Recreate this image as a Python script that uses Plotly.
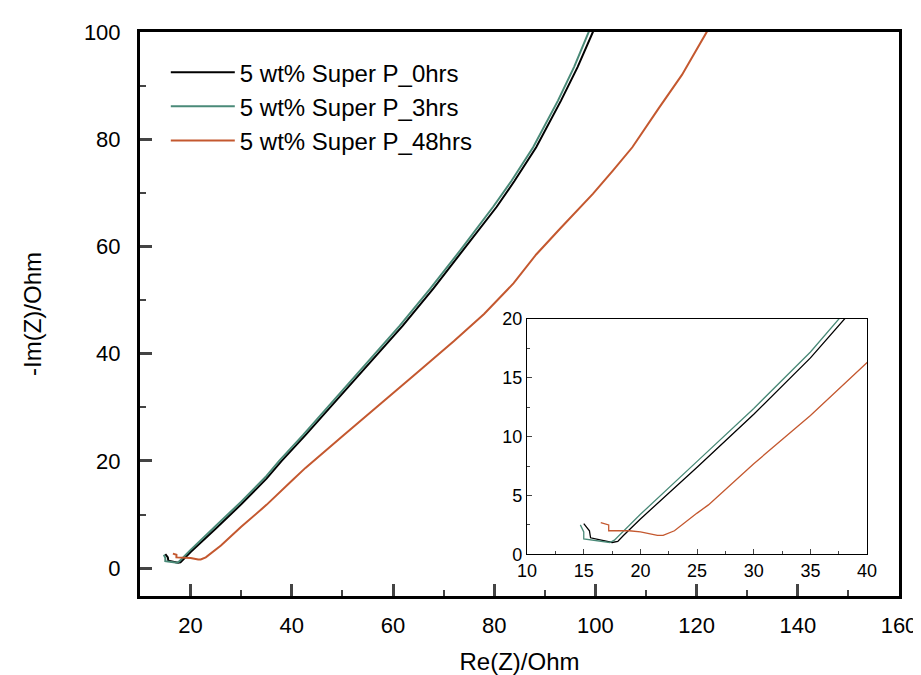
import plotly.graph_objects as go

names = ["5 wt% Super P_0hrs", "5 wt% Super P_3hrs", "5 wt% Super P_48hrs"]
colors = ["#000000", "#4a8a78", "#c4582f"]

x_0h = [15.0, 15.5, 15.6, 17.0, 17.5, 18.0, 18.5, 20.0, 25.0, 30.0, 35.0, 38.0, 42.7, 50.0, 56.0, 61.9, 68.0, 74.0, 80.5, 84.0, 88.3, 93.2, 96.5, 99.5, 101.0]
y_0h = [2.6, 2.0, 1.4, 1.1, 1.0, 1.1, 1.6, 3.0, 7.4, 11.9, 16.7, 20.0, 24.8, 32.5, 38.8, 45.2, 52.2, 59.4, 67.4, 72.2, 78.5, 87.2, 93.5, 100.0, 103.0]

x_3h = [14.7, 15.0, 15.0, 16.5, 17.3, 17.7, 20.0, 25.0, 30.0, 35.0, 37.5, 42.2, 49.4, 55.4, 61.3, 67.4, 73.4, 79.8, 83.4, 87.7, 92.6, 95.8, 98.7, 100.0]
y_3h = [2.5, 1.9, 1.3, 1.1, 1.0, 1.2, 3.4, 7.9, 12.4, 17.2, 20.0, 24.8, 32.5, 38.8, 45.2, 52.2, 59.4, 67.4, 72.2, 78.5, 87.2, 93.5, 100.0, 103.0]

x_48h = [16.5, 17.2, 17.2, 19.0, 20.0, 21.5, 22.0, 23.0, 25.0, 26.0, 30.0, 35.0, 40.0, 42.7, 50.0, 57.0, 64.8, 72.0, 78.0, 83.8, 88.3, 93.0, 99.5, 103.5, 107.3, 112.6, 117.1, 122.0, 123.0]
y_48h = [2.7, 2.5, 2.0, 2.0, 1.9, 1.6, 1.6, 2.0, 3.5, 4.2, 7.7, 11.8, 16.3, 18.7, 24.6, 30.3, 36.5, 42.3, 47.4, 53.1, 58.5, 63.3, 69.8, 74.2, 78.5, 85.9, 92.0, 100.0, 102.5]

series_x = [x_0h, x_3h, x_48h]
series_y = [y_0h, y_3h, y_48h]

main_xticks = [20, 40, 60, 80, 100, 120, 140, 160]
main_xminor = [30, 50, 70, 90, 110, 130, 150]
main_yticks = [0, 20, 40, 60, 80, 100]
main_yminor = [10, 30, 50, 70, 90]
inset_xticks = [10, 15, 20, 25, 30, 35, 40]
inset_xminor = [12.5, 17.5, 22.5, 27.5, 32.5, 37.5]
inset_yticks = [0, 5, 10, 15, 20]
inset_yminor = [2.5, 7.5, 12.5, 17.5]

fig = go.Figure()
for nm, c, xs, ys in zip(names, colors, series_x, series_y):
    fig.add_trace(go.Scatter(x=xs, y=ys, mode="lines", name=nm,
                             line=dict(color=c, width=2), xaxis="x", yaxis="y"))
for nm, c, xs, ys in zip(names, colors, series_x, series_y):
    fig.add_trace(go.Scatter(x=xs, y=ys, mode="lines", name=nm, showlegend=False,
                             line=dict(color=c, width=1.3), xaxis="x2", yaxis="y2"))

font_family = "Liberation Sans, Arial, sans-serif"
fig.update_layout(
    width=921, height=675,
    paper_bgcolor="white", plot_bgcolor="white",
    margin=dict(l=132, r=21, t=24, b=83),
    font=dict(family=font_family, color="black"),
    showlegend=True,
    legend=dict(x=0.034, y=0.968, xanchor="left", yanchor="top",
                bgcolor="rgba(0,0,0,0)", font=dict(size=24, family=font_family),
                tracegroupgap=0, itemwidth=64),
    xaxis=dict(range=[10, 160], tickvals=main_xticks, ticks="inside", ticklen=12, tickwidth=2.5,
               showline=True, linewidth=3, linecolor="black", mirror=True, showgrid=False,
               zeroline=False, tickfont=dict(size=22), ticklabelstandoff=8,
               ticklabeloverflow="allow",
               minor=dict(tickvals=main_xminor, ticks="inside", ticklen=6, tickwidth=2),
               title=dict(text="Re(Z)/Ohm", font=dict(size=24), standoff=16)),
    yaxis=dict(range=[-5.2, 100], tickvals=main_yticks, ticks="inside", ticklen=12, tickwidth=2.5,
               showline=True, linewidth=3, linecolor="black", mirror=True, showgrid=False,
               zeroline=False, tickfont=dict(size=22), ticklabelstandoff=12,
               minor=dict(tickvals=main_yminor, ticks="inside", ticklen=6, tickwidth=2),
               title=dict(text="-Im(Z)/Ohm", font=dict(size=24), standoff=36)),
    xaxis2=dict(domain=[0.510, 0.958], anchor="y2", range=[10, 40], tickvals=inset_xticks,
                ticks="inside", ticklen=5, tickwidth=1, showline=True, linewidth=1.3, linecolor="black",
                mirror=True, showgrid=False, zeroline=False, tickfont=dict(size=18),
                minor=dict(tickvals=inset_xminor, ticks="inside", ticklen=3, tickwidth=1)),
    yaxis2=dict(domain=[0.074, 0.491], anchor="x2", range=[0, 20], tickvals=inset_yticks,
                ticks="inside", ticklen=5, tickwidth=1, showline=True, linewidth=1.3, linecolor="black",
                mirror=True, showgrid=False, zeroline=False, tickfont=dict(size=18),
                minor=dict(tickvals=inset_yminor, ticks="inside", ticklen=3, tickwidth=1)),
)
fig.add_shape(type="rect", xref="x2 domain", yref="y2 domain", x0=0, x1=1, y0=0, y1=1,
              fillcolor="white", line=dict(width=0), layer="below")

fig.write_html("out.html")
